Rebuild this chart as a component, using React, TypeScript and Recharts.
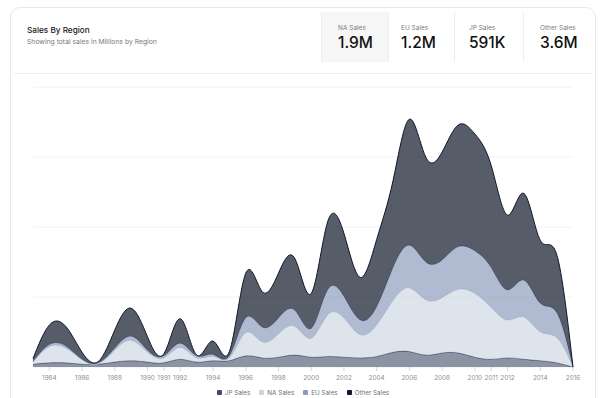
import { AreaChart, Area, XAxis, YAxis, CartesianGrid, Legend } from "recharts";

// yearly sales (millions)
const years = [
  1983, 1984, 1985, 1986, 1987, 1988, 1989, 1990, 1991, 1992, 1993, 1994, 1995, 1996, 1997, 1998, 1999,
  2000, 2001, 2002, 2003, 2004, 2005, 2006, 2007, 2008, 2009, 2010, 2011, 2012, 2013, 2014, 2015, 2016,
];
const jpSales = [4, 6, 6, 4, 4, 7, 9, 7, 6, 11, 7, 9, 9, 16, 13, 14, 17, 14, 15, 14, 13, 15, 21, 22, 17, 20, 20, 14, 11, 13, 11, 9, 6, 0];
const naSales = [3, 23, 21, 6, 1, 17, 29, 14, 7, 17, 6, 6, 4, 33, 23, 33, 41, 27, 59, 56, 33, 45, 74, 91, 79, 79, 91, 91, 74, 54, 60, 41, 36, 0];
const euSales = [1, 3, 3, 1, 1, 3, 6, 3, 3, 6, 3, 3, 3, 21, 21, 23, 23, 14, 36, 31, 21, 26, 47, 61, 54, 54, 61, 61, 57, 43, 53, 41, 36, 0];
const otherSales = [4, 28, 28, 10, 2, 26, 40, 19, 3, 35, 1, 19, 6, 64, 51, 64, 74, 50, 97, 90, 61, 96, 124, 180, 150, 154, 174, 167, 146, 107, 124, 90, 83, 0];

const xTicks = [1984, 1986, 1988, 1990, 1991, 1992, 1994, 1996, 1998, 2000, 2002, 2004, 2006, 2008, 2010, 2011, 2012, 2014, 2016];

const statLabels = ["NA Sales", "EU Sales", "JP Sales", "Other Sales"];
const statValues = ["1.9M", "1.2M", "591K", "3.6M"];

const series = [
  { key: "jp", name: "JP Sales", color: "#3f4d67", opacity: 0.6 },
  { key: "na", name: "NA Sales", color: "#cbd5e1", opacity: 0.65 },
  { key: "eu", name: "EU Sales", color: "#8b9bbb", opacity: 0.68 },
  { key: "other", name: "Other Sales", color: "#0f172a", opacity: 0.7 },
];

const chartData = years.map((year, i) => ({
  year,
  jp: jpSales[i],
  na: naSales[i],
  eu: euSales[i],
  other: otherSales[i],
}));

// stat box geometry (page px)
const boxLeft = [321, 388, 454, 523];
const boxWidth = [67, 66, 69, 74];
const boxPad = [16, 12, 14, 16];

function LegendRow() {
  return (
    <div style={{ display: "flex", justifyContent: "center", alignItems: "center", gap: 9, height: 11 }}>
      {series.map((s) => (
        <div key={s.key} style={{ display: "flex", alignItems: "center", gap: 3 }}>
          <span style={{ width: 5, height: 5, borderRadius: 1, background: s.color, display: "inline-block" }} />
          <span style={{ fontSize: 6.3, color: "#707070" }}>{s.name}</span>
        </div>
      ))}
    </div>
  );
}

export default function App() {
  return (
    <div
      style={{
        position: "absolute",
        left: 0,
        top: 0,
        width: 600,
        height: 398,
        overflow: "hidden",
        background: "#fff",
        fontFamily: "Inter, 'Noto Sans', sans-serif",
      }}
    >
      {/* card */}
      <div
        style={{
          position: "absolute",
          left: 10,
          top: 7,
          width: 586,
          height: 430,
          border: "1px solid #e9e9e9",
          borderRadius: 10,
          boxSizing: "border-box",
        }}
      />
      <div style={{ position: "absolute", left: 27, top: 25, fontSize: 8.2, fontWeight: 500, color: "#18181b" }}>
        Sales By Region
      </div>
      <div style={{ position: "absolute", left: 27, top: 37, fontSize: 6.8, color: "#7a7a80" }}>
        Showing total sales in Millions by Region
      </div>

      {statLabels.map((label, i) => (
        <div
          key={label}
          style={{
            position: "absolute",
            left: boxLeft[i],
            top: 12,
            width: boxWidth[i],
            height: 50,
            boxSizing: "border-box",
            borderLeft: "1px solid #eeeeee",
            background: i === 0 ? "#f6f6f6" : "transparent",
          }}
        >
          <div style={{ position: "absolute", left: boxPad[i], top: 12, fontSize: 6.5, color: "#7a7a80", whiteSpace: "nowrap" }}>
            {label}
          </div>
          <div style={{ position: "absolute", left: boxPad[i], top: 21, fontSize: 15.5, fontWeight: 500, color: "#111", whiteSpace: "nowrap" }}>
            {statValues[i]}
          </div>
        </div>
      ))}

      <div style={{ position: "absolute", left: 14, top: 73, width: 578, height: 1, background: "#efefef" }} />

      <div style={{ position: "absolute", left: 0, top: 73 }}>
        <AreaChart width={600} height={325} data={chartData} margin={{ top: 14, right: 27, left: 33, bottom: 0 }}>
          <CartesianGrid vertical={false} stroke="#f2f2f2" />
          <XAxis
            dataKey="year"
            type="number"
            domain={[1983, 2016]}
            ticks={xTicks}
            interval={0}
            height={20}
            axisLine={false}
            tickLine={{ stroke: "#d6d6d6" }}
            tickSize={4}
            tickMargin={4}
            tick={{ fontSize: 6.4, fill: "#8f8f8f" }}
          />
          <YAxis hide domain={[0, 400]} ticks={[0, 100, 200, 300, 400]} />
          <Legend
            verticalAlign="bottom"
            height={11}
            wrapperStyle={{ left: 33, width: 540, bottom: 0 }}
            content={() => <LegendRow />}
          />
          {series.map((s) => (
            <Area
              key={s.key}
              dataKey={s.key}
              name={s.name}
              type="natural"
              stackId="a"
              fill={s.color}
              fillOpacity={s.opacity}
              stroke={s.color}
              strokeWidth={1}
              isAnimationActive={false}
            />
          ))}
        </AreaChart>
      </div>
    </div>
  );
}
